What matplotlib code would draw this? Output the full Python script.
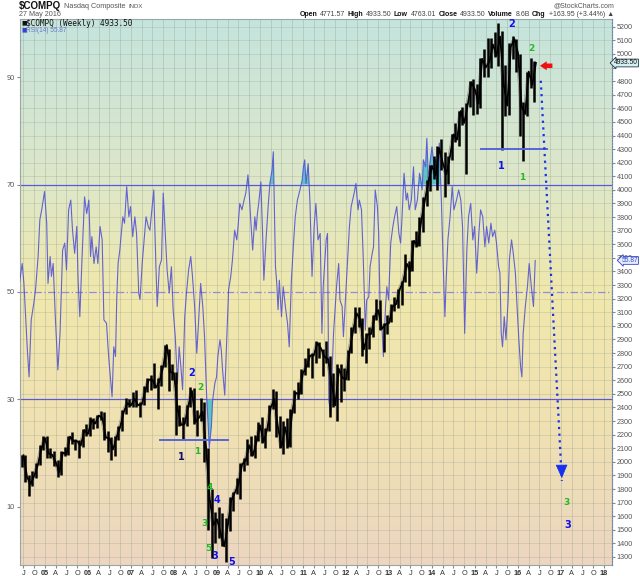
import numpy as np
import matplotlib
matplotlib.use('Agg')
import matplotlib.pyplot as plt
import matplotlib.transforms as mtransforms
from matplotlib.colors import LinearSegmentedColormap

plt.rcParams['font.family'] = ['Liberation Sans', 'DejaVu Sans']

# ---------------- data ----------------
start_year, start_month = 2004, 6   # first monthly bar: June 2004
price_high = [2050, 2050, 1900, 1930, 1990, 2120, 2190,
              2190, 2100, 2080, 2010, 2080, 2110, 2190, 2220, 2170, 2160, 2240, 2280,
              2330, 2320, 2345, 2375, 2370, 2230, 2180, 2190, 2260, 2380, 2470, 2460,
              2510, 2530, 2440, 2560, 2620, 2640, 2725, 2620, 2710, 2860, 2830, 2720,
              2660, 2420, 2330, 2420, 2550, 2540, 2380, 2470, 2440, 2100, 1800, 1630,
              1670, 1620, 1590, 1740, 1780, 1880, 1990, 2030, 2170, 2190, 2200, 2295,
              2330, 2250, 2420, 2535, 2520, 2340, 2300, 2320, 2390, 2530, 2590, 2680,
              2765, 2840, 2800, 2890, 2880, 2830, 2890, 2780, 2650, 2720, 2720, 2690,
              2820, 2990, 3135, 3135, 3060, 2950, 2990, 3080, 3200, 3190, 3020, 3080,
              3160, 3210, 3270, 3330, 3530, 3480, 3630, 3700, 3800, 3950, 4070, 4180,
              4250, 4320, 4371, 4280, 4250, 4410, 4490, 4580, 4610, 4640, 4800, 4815,
              4780, 4970, 5040, 5120, 5120, 5165, 5231, 5170, 4920, 5080, 5130, 5110,
              5000, 4650, 4870, 4970, 4950]
price_low = [1960, 1850, 1750, 1825, 1880, 1975, 2085,
             2030, 2030, 1970, 1890, 1900, 2040, 2050, 2130, 2090, 2025, 2110, 2190,
             2190, 2240, 2250, 2310, 2160, 2070, 2010, 2040, 2160, 2230, 2350, 2400,
             2400, 2400, 2330, 2420, 2510, 2530, 2540, 2390, 2560, 2700, 2520, 2600,
             2200, 2260, 2160, 2260, 2400, 2280, 2190, 2300, 2000, 1500, 1295, 1400,
             1440, 1380, 1265, 1490, 1640, 1760, 1730, 1930, 1980, 2040, 2030, 2150,
             2140, 2100, 2230, 2390, 2180, 2100, 2060, 2100, 2110, 2360, 2460, 2500,
             2640, 2700, 2620, 2730, 2760, 2630, 2730, 2330, 2400, 2300, 2440, 2520,
             2600, 2800, 2950, 2990, 2780, 2730, 2830, 2920, 3040, 2970, 2810, 2940,
             3030, 3110, 3130, 3150, 3320, 3290, 3400, 3580, 3590, 3690, 3880, 3990,
             4080, 4000, 4150, 3946, 4040, 4220, 4350, 4320, 4480, 4117, 4610, 4550,
             4560, 4600, 4830, 4830, 4900, 4980, 4910, 4292, 4540, 4550, 4960, 4870,
             4400, 4210, 4540, 4750, 4650]
price_close = [2048, 1887, 1838, 1897, 1975, 2097, 2175,
               2062, 2052, 1999, 1922, 2068, 2057, 2185, 2152, 2152, 2120, 2233, 2205,
               2306, 2281, 2340, 2323, 2179, 2172, 2091, 2184, 2258, 2367, 2432, 2415,
               2464, 2416, 2422, 2525, 2605, 2603, 2546, 2596, 2701, 2859, 2661, 2652,
               2389, 2271, 2279, 2413, 2522, 2293, 2326, 2368, 2092, 1721, 1536, 1577,
               1476, 1378, 1529, 1717, 1774, 1835, 1979, 2009, 2122, 2045, 2145, 2269,
               2147, 2238, 2398, 2461, 2257, 2109, 2255, 2114, 2369, 2507, 2498, 2653,
               2700, 2782, 2781, 2874, 2835, 2774, 2756, 2579, 2415, 2684, 2620, 2605,
               2814, 2967, 3092, 3046, 2827, 2936, 2940, 3067, 3116, 2977, 3010, 3020,
               3142, 3160, 3268, 3329, 3456, 3403, 3626, 3590, 3771, 3920, 4060, 4177,
               4104, 4308, 4199, 4115, 4243, 4408, 4370, 4580, 4493, 4631, 4792, 4736,
               4635, 4964, 4901, 4941, 5070, 4987, 5128, 4777, 4620, 5054, 5109, 5007,
               4614, 4558, 4870, 4775, 4934]

rsi_dates = [2004.41, 2004.47, 2004.51, 2004.59, 2004.63, 2004.68, 2004.74, 2004.78, 2004.84, 2004.88,
             2004.93, 2004.99, 2005.04, 2005.07, 2005.12, 2005.15, 2005.19, 2005.24, 2005.30, 2005.35,
             2005.41, 2005.46, 2005.50, 2005.55, 2005.60, 2005.64, 2005.69, 2005.74, 2005.77, 2005.81,
             2005.86, 2005.92, 2005.97, 2006.02, 2006.06, 2006.09, 2006.14, 2006.19, 2006.23, 2006.28,
             2006.33, 2006.37, 2006.43, 2006.47, 2006.50, 2006.56, 2006.60, 2006.64, 2006.67, 2006.70,
             2006.74, 2006.81, 2006.85, 2006.90, 2006.95, 2006.99, 2007.04, 2007.09, 2007.13, 2007.18,
             2007.21, 2007.26, 2007.30, 2007.35, 2007.40, 2007.44, 2007.47, 2007.53, 2007.58, 2007.61,
             2007.66, 2007.71, 2007.75, 2007.80, 2007.84, 2007.89, 2007.94, 2007.98, 2008.03, 2008.08,
             2008.12, 2008.16, 2008.20, 2008.25, 2008.29, 2008.34, 2008.39, 2008.43, 2008.48, 2008.53,
             2008.57, 2008.62, 2008.67, 2008.71, 2008.76, 2008.79, 2008.82, 2008.87, 2008.90, 2008.95,
             2008.99, 2009.02, 2009.07, 2009.10, 2009.13, 2009.18, 2009.22, 2009.27, 2009.32, 2009.36,
             2009.41, 2009.46, 2009.49, 2009.53, 2009.58, 2009.63, 2009.67, 2009.72, 2009.75, 2009.78,
             2009.83, 2009.88, 2009.91, 2009.94, 2009.97, 2010.02, 2010.06, 2010.09, 2010.14, 2010.19,
             2010.23, 2010.28, 2010.31, 2010.36, 2010.39, 2010.42, 2010.45, 2010.50, 2010.54, 2010.59,
             2010.64, 2010.68, 2010.73, 2010.78, 2010.82, 2010.87, 2010.93, 2010.98, 2011.01, 2011.04,
             2011.07, 2011.12, 2011.16, 2011.21, 2011.26, 2011.30, 2011.35, 2011.40, 2011.44, 2011.47,
             2011.54, 2011.57, 2011.60, 2011.64, 2011.71, 2011.75, 2011.78, 2011.83, 2011.86, 2011.91,
             2011.94, 2011.99, 2012.03, 2012.08, 2012.12, 2012.19, 2012.23, 2012.28, 2012.31, 2012.36,
             2012.40, 2012.45, 2012.48, 2012.53, 2012.56, 2012.61, 2012.64, 2012.68, 2012.73, 2012.76,
             2012.79, 2012.84, 2012.87, 2012.92, 2012.95, 2012.99, 2013.04, 2013.09, 2013.13, 2013.18,
             2013.23, 2013.27, 2013.30, 2013.35, 2013.40, 2013.43, 2013.47, 2013.52, 2013.57, 2013.61,
             2013.66, 2013.71, 2013.74, 2013.77, 2013.80, 2013.85, 2013.88, 2013.92, 2013.95, 2014.00,
             2014.05, 2014.08, 2014.12, 2014.17, 2014.22, 2014.26, 2014.30, 2014.33, 2014.37, 2014.42,
             2014.47, 2014.51, 2014.57, 2014.62, 2014.67, 2014.71, 2014.76, 2014.81, 2014.85, 2014.90,
             2014.95, 2014.99, 2015.04, 2015.09, 2015.13, 2015.18, 2015.23, 2015.27, 2015.32, 2015.37,
             2015.41, 2015.46, 2015.50, 2015.55, 2015.58, 2015.61, 2015.64, 2015.68, 2015.72, 2015.77,
             2015.80, 2015.85, 2015.89, 2015.94, 2015.97, 2016.02, 2016.06, 2016.09, 2016.12, 2016.17,
             2016.22, 2016.26, 2016.31, 2016.36, 2016.40]
rsi_values = [51.9, 55.3, 51.6, 39.2, 34.2, 44.8, 47.9, 50.4, 56.6, 63.4,
              65.6, 68.7, 62.8, 51.6, 56.6, 52.9, 55.3, 45.4, 35.5, 42.3,
              57.8, 59.1, 54.1, 65.3, 67.1, 61.5, 57.2, 62.2, 52.2, 45.4,
              56.0, 67.7, 64.6, 67.1, 56.6, 60.3, 55.3, 58.4, 55.3, 62.2,
              59.7, 44.8, 44.2, 39.2, 36.1, 30.5, 39.8, 38.0, 49.1, 55.3,
              57.8, 64.0, 62.8, 69.6, 64.0, 65.9, 60.3, 64.0, 60.9, 49.8,
              48.6, 55.3, 59.1, 64.0, 62.2, 61.5, 64.0, 69.0, 54.7, 47.3,
              54.7, 56.0, 68.4, 60.3, 54.1, 49.8, 54.7, 46.7, 41.7, 33.0,
              39.8, 36.1, 31.8, 45.4, 49.8, 54.1, 56.6, 52.9, 47.3, 38.6,
              44.2, 51.6, 47.3, 41.7, 30.5, 26.0, 21.0, 25.0, 29.9, 33.0,
              34.2, 38.0, 41.1, 39.2, 35.5, 30.8, 39.8, 50.4, 52.9, 56.0,
              61.5, 59.7, 62.2, 66.5, 65.3, 67.1, 68.4, 71.8, 68.4, 64.0,
              57.8, 64.0, 61.5, 64.6, 66.5, 70.5, 60.9, 52.2, 59.7, 65.9,
              70.2, 72.7, 76.1, 54.7, 51.6, 46.7, 52.2, 45.4, 51.0, 47.3,
              44.2, 39.8, 52.2, 59.1, 64.0, 67.1, 69.0, 70.8, 73.3, 74.6,
              70.2, 73.9, 67.1, 52.9, 62.2, 66.5, 59.7, 60.9, 42.3, 51.0,
              59.7, 60.9, 29.9, 27.4, 42.3, 47.3, 51.0, 55.3, 48.5, 47.3,
              41.7, 49.1, 54.7, 62.2, 65.9, 68.4, 70.2, 65.3, 67.1, 65.3,
              56.6, 42.9, 48.5, 49.1, 54.7, 57.2, 58.4, 69.0, 65.9, 60.9,
              48.5, 42.9, 38.0, 47.3, 51.0, 48.5, 59.1, 62.2, 64.0, 65.9,
              60.9, 59.1, 63.4, 72.1, 67.1, 68.4, 65.3, 67.1, 73.3, 65.3,
              67.1, 72.1, 70.8, 69.0, 74.6, 73.3, 78.6, 70.2, 73.9, 77.0,
              73.3, 74.6, 69.6, 77.7, 66.5, 55.3, 45.4, 52.2, 59.7, 64.0,
              69.6, 65.3, 67.1, 69.0, 67.1, 62.2, 42.3, 57.8, 64.0, 66.5,
              59.7, 62.2, 53.5, 60.9, 65.3, 64.0, 58.4, 62.2, 59.1, 62.8,
              60.3, 61.5, 59.1, 54.7, 53.5, 42.3, 39.8, 45.4, 41.1, 48.5,
              56.0, 59.7, 57.2, 53.5, 48.5, 41.1, 36.1, 34.2, 42.3, 47.3,
              51.0, 55.3, 51.0, 47.3, 55.87]

rsi_ticks = [10, 30, 50, 70, 90]
price_ticks = list(range(1300, 5300, 100))
last_close = 4933.50
last_rsi = 55.87

# Elliott-wave annotations (decimal year, price)
wave_text = ['2', '2', '1', '1', '4', '4', '3', '5', '3', '5',
             '2', '2', '1', '1', '3', '3']
wave_x = [2008.41, 2008.62, 2008.16, 2008.53, 2008.84, 2009.00, 2008.70, 2008.79, 2008.95, 2009.35,
          2015.86, 2016.32, 2015.62, 2016.09, 2017.13, 2017.15]
wave_y = [2656, 2549, 2036, 2073, 1808, 1719, 1543, 1359, 1307, 1263,
          5220, 5043, 4179, 4094, 1700, 1533]
wave_col = ['blue', 'green', 'navy', 'green', 'green', 'blue', 'green', 'green', 'blue', 'blue',
            'blue', 'green', 'blue', 'green', 'green', 'blue']
support_lines = [(2007.67, 2009.26, 2161), (2015.14, 2016.67, 4300)]
proj_start = (2016.53, 4803)
proj_end = (2017.02, 1859)
red_arrow = (2016.51, 2016.80, 4913)

# ---------------- figure ----------------
W, H = 640, 576
fig = plt.figure(figsize=(W / 100, H / 100), dpi=100)
fig.patch.set_facecolor('white')
ax = fig.add_axes([20 / W, 11 / H, 592 / W, 546 / H])
x0, x1 = 2004.419, 2018.186
ax.set_xlim(x0, x1)
ax.set_ylim(-0.8, 100.8)

cmap = LinearSegmentedColormap.from_list('bg', [
    (0.00, (197 / 255, 228 / 255, 221 / 255)),
    (0.30, (222 / 255, 231 / 255, 200 / 255)),
    (0.50, (240 / 255, 232 / 255, 172 / 255)),
    (0.75, (240 / 255, 225 / 255, 178 / 255)),
    (1.00, (236 / 255, 214 / 255, 192 / 255))])
grad = np.linspace(0, 1, 300).reshape(-1, 1)
ax.imshow(grad, extent=[x0, x1, -0.8, 100.8], aspect='auto', cmap=cmap,
          origin='upper', zorder=0, interpolation='bicubic')

xt, xl = [], []
for yr in range(2004, 2019):
    for q, lab in zip([0.0, 0.247, 0.496, 0.748], [None, 'A', 'J', 'O']):
        v = yr + q
        if x0 <= v <= x1:
            xt.append(v)
            xl.append(f"{yr % 100:02d}" if lab is None else lab)
ax.set_xticks(xt)
ax.set_xticklabels(xl, fontsize=5.3, color='#333333')
for t, s in zip(ax.get_xticklabels(), xl):
    if s.isdigit():
        t.set_fontweight('bold')
ax.grid(axis='x', color='#8f9a8a', alpha=0.32, lw=0.7)
ax.tick_params(axis='x', length=2, pad=1.5, color='#888888')

ax.set_yticks(rsi_ticks)
ax.set_yticklabels([str(v) for v in rsi_ticks], fontsize=5.3, color='#555555')
ax.tick_params(axis='y', length=2, pad=1.5, color='#888888')

ax.axhline(70, color='#5a5ad8', lw=0.9, zorder=2)
ax.axhline(30, color='#5a5ad8', lw=0.9, zorder=2)
ax.axhline(50, color='#8c8ce6', lw=0.9, ls=(0, (6, 2, 1, 2)), zorder=2)

rd = np.array(rsi_dates)
rv = np.array(rsi_values)
ax.fill_between(rd, rv, 70, where=rv > 70, interpolate=True, color='#5cc4c4', lw=0, zorder=2.5)
ax.fill_between(rd, rv, 30, where=rv < 30, interpolate=True, color='#5cc4c4', lw=0, zorder=2.5)
ax.plot(rd, rv, color='#4b4bd6', lw=0.8, alpha=0.85, zorder=3)

for sp in ax.spines.values():
    sp.set_color('#9aa6a6')
    sp.set_linewidth(0.8)

axp = ax.twinx()
axp.set_ylim(1241, 5257)
axp.set_yticks(price_ticks)
axp.set_yticklabels(['' if v == 4900 else str(v) for v in price_ticks], fontsize=5.2, color='#555555')
axp.tick_params(axis='y', length=2, pad=1.5, color='#888888')
axp.grid(axis='y', color='#8f9a8a', alpha=0.25, lw=0.7)
axp.spines['right'].set_linestyle(':')
axp.spines['right'].set_color('#6688aa')
for k in ['left', 'top', 'bottom']:
    axp.spines[k].set_visible(False)

n = len(price_close)
idx = np.arange(n)
mid = start_year + (start_month - 1 + idx + 0.5) / 12
end = start_year + (start_month - 1 + idx + 1) / 12
axp.vlines(mid, price_low, price_high, color='black', lw=1.8, zorder=4)
axp.plot(end, price_close, color='black', lw=1.3, zorder=4)
axp.plot(mid, price_close, color='#555555', lw=0.6, alpha=0.5, zorder=3.5)

for a, b, lv in support_lines:
    axp.plot([a, b], [lv, lv], color='#5566dd', lw=1.4, zorder=5)

axp.plot([proj_start[0], proj_end[0]], [proj_start[1], proj_end[1]],
         color='#1530ee', lw=1.6, ls=(0, (1, 2)), zorder=6)
axp.annotate('', xy=proj_end, xytext=(proj_end[0] - 0.004, proj_end[1] + 80),
             arrowprops=dict(arrowstyle='-|>,head_width=0.35,head_length=0.8',
                             color='#1530ee', lw=0.5, mutation_scale=11), zorder=6)
axp.annotate('', xy=(red_arrow[0], red_arrow[2]), xytext=(red_arrow[1], red_arrow[2]),
             arrowprops=dict(arrowstyle='simple,head_width=1.0,head_length=0.75,tail_width=0.5',
                             color='#ee1111', lw=0, mutation_scale=6.5,
                             shrinkA=0, shrinkB=0), zorder=6)

cmap_col = {'blue': '#1010ee', 'green': '#22bb22', 'navy': '#101070'}
for s, xv, yv, c in zip(wave_text, wave_x, wave_y, wave_col):
    axp.text(xv, yv, s, color=cmap_col[c], fontsize=7 if c != 'green' else 6.5,
             fontweight='bold', ha='center', va='center', zorder=7,
             family=['DejaVu Sans'])

# value boxes on the right (drawn on the price axes so they cover tick labels)
box_x = (638 - 20) / 592
tr_p = mtransforms.blended_transform_factory(axp.transAxes, axp.transData)
axp.text(box_x, last_close, f"{last_close:.2f}", transform=tr_p, fontsize=4.8, color='#111111',
         va='center', ha='right', zorder=10, clip_on=False,
         bbox=dict(boxstyle='larrow,pad=0.06', fc='#d4f0f0', ec='#223344', lw=0.6))
tr_r = mtransforms.blended_transform_factory(axp.transAxes, ax.transData)
axp.text(box_x, last_rsi, f"{last_rsi:.2f}", transform=tr_r, fontsize=4.8, color='#3344cc',
         va='center', ha='right', zorder=10, clip_on=False,
         bbox=dict(boxstyle='larrow,pad=0.06', fc='#e6ecfa', ec='#3344cc', lw=0.6))

# header texts
renderer = fig.canvas.get_renderer()

def ft(px, py, s, **kw):
    return fig.text(px / W, 1 - py / H, s, va='center', **kw)

def width_px(t):
    return t.get_window_extent(renderer=renderer).width

x = 19
for s, fs, fw, col in [('$COMPQ', 7, 'bold', '#111111'), ('Nasdaq Composite', 5.2, 'normal', '#555555'),
                       ('INDX', 4.3, 'normal', '#555555')]:
    t = ft(x, 6, s, fontsize=fs, fontweight=fw, color=col)
    x += width_px(t) + 3
ft(19, 15, '27 May 2016', fontsize=5.2, color='#555555')
ft(614, 6, '@StockCharts.com', fontsize=5.0, color='#555555', ha='right')

pieces = [('Open', True), ('4771.57', False), ('High', True), ('4933.50', False),
          ('Low', True), ('4763.01', False), ('Close', True), ('4933.50', False),
          ('Volume', True), ('8.6B', False), ('Chg', True),
          ('+163.95 (+3.44%) \u25b2', False)]
x = 614
for s, b in reversed(pieces):
    t = ft(x, 15, s, fontsize=5.0, fontweight='bold' if b else 'normal',
           color='#111111' if b else '#444444', ha='right',
           family=['Liberation Sans', 'DejaVu Sans'])
    x -= width_px(t) + (3 if not b else 2)

ft(21, 23, '\u25a0', fontsize=4.3, color='#111111', family=['DejaVu Sans'])
ft(26, 23, '$COMPQ (Weekly) 4933.50', fontsize=5.6, color='#111111', family=['DejaVu Sans Mono'])
ft(21, 30, '\u25a0', fontsize=4.3, color='#3344cc', family=['DejaVu Sans'])
ft(26, 30, 'RSI(14) 55.87', fontsize=4.7, color='#6677cc')

fig.savefig('out.png', dpi=100)
